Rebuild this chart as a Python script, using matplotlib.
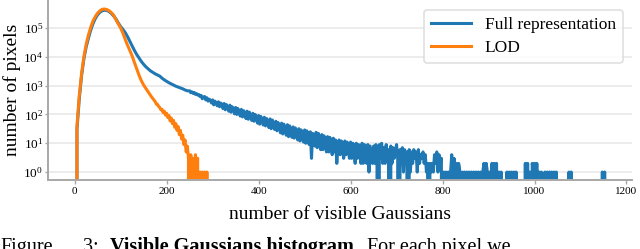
import numpy as np
import matplotlib
matplotlib.use("Agg")
import matplotlib.pyplot as plt
from matplotlib.ticker import NullLocator, FixedLocator

plt.rcParams['font.family'] = ['Liberation Serif', 'DejaVu Serif']
plt.rcParams['mathtext.fontset'] = 'custom'
plt.rcParams['mathtext.rm'] = 'Liberation Serif'
plt.rcParams['mathtext.it'] = 'Liberation Serif:italic'

# histogram counts
# head: one value per 5 gaussians (0-245)
full_counts = [
    0, 30, 350, 2200, 8500, 22000, 45000, 85000, 145000, 215000,             # 0-45
    290000, 355000, 398000, 417000, 407000, 372000, 316000, 260000, 204000, 148000,  # 50-95
    112000, 89000, 69000, 50000, 34700, 24000, 16600, 12000, 9100, 6900,     # 100-145
    5500, 4470, 3800, 3240, 2880, 2570, 2340, 2140, 1820, 1580,              # 150-195
    1410, 1260, 1150, 1050, 955, 890, 830, 776, 708, 660,                    # 200-245
]
# noisy part: one value per 2.5 gaussians (250-697.5)
full_mid_counts = [
    660, 570, 610, 540, 580, 500, 530, 470, 490, 420,    # 250
    460, 350, 400, 420, 320, 380, 290, 340, 310, 250,    # 275
    320, 215, 290, 250, 200, 275, 185, 250, 230, 160,    # 300
    240, 145, 220, 175, 130, 210, 120, 185, 160, 105,    # 325
    175, 100, 160, 125, 88, 150, 82, 135, 110, 72,       # 350
    130, 68, 120, 85, 62, 110, 58, 100, 80, 50,          # 375
    92, 46, 85, 60, 43, 80, 40, 72, 55, 35,              # 400
    70, 32, 64, 45, 30, 58, 27, 52, 38, 23,              # 425
    50, 21, 46, 30, 19, 44, 17, 40, 26, 16,              # 450
    37, 15, 34, 22, 13, 32, 12, 29, 19, 11,              # 475
    29, 10, 27, 16, 9, 25, 3, 22, 14, 8,                 # 500
    24, 7, 22, 12, 6, 20, 6, 18, 11, 5,                  # 525
    17, 5, 16, 9, 4, 15, 5, 13, 2, 7,                    # 550
    13, 4, 12, 7, 3, 12, 4, 11, 6, 3,                    # 575
    11, 3, 10, 5, 2, 10, 3, 9, 5, 2,                     # 600
    10, 2, 9, 4, 2, 9, 1, 8, 4, 2,                       # 625
    8, 2, 9, 3, 0, 9, 3, 10, 2, 7,                       # 650
    2, 9, 3, 6, 0, 8, 2, 7, 3, 5,                        # 675
]
# sparse tail: one value per 2.5 gaussians (700-1160)
full_tail_counts = [
    9, 3, 0, 6,                                                  # 700-707.5
    2, 7, 1, 6, 2, 5, 0, 6, 1, 5,                                # 710-732.5
    2, 6, 3, 5, 1, 6, 2, 4, 3, 5, 2, 4,                          # 735-762.5
    1, 2, 0, 2, 1, 2, 1,                                         # 765-780
    4, 2, 5, 1, 4, 2, 3,                                         # 782.5-797.5
    0, 1, 0, 1, 0, 1, 0,                                         # 800-815
    1, 4, 0, 3, 1,                                               # 817.5-827.5
    2, 0, 2, 1,                                                  # 830-837.5
    0, 1, 0, 1, 0, 1, 0, 1, 0, 1, 0, 1, 0, 1, 0, 1, 0, 1, 0, 1,  # 840-887.5
    2, 0, 2, 1,                                                  # 890-897.5
    0, 1, 0,                                                     # 900-905
    2, 0, 2, 1, 2,                                               # 907.5-917.5
    0, 1, 0, 1,                                                  # 920-927.5
    0, 0, 0, 0,                                                  # 930-937.5
    1, 0, 1, 0, 1, 0, 1, 0, 1,                                   # 940-960
    0, 0, 0, 0, 0, 0, 0,                                         # 962.5-977.5
    2, 0, 2, 0, 1,                                               # 980-990
    0, 2, 1, 2, 0, 2, 0,                                         # 992.5-1007.5
    1, 0, 1, 0,                                                  # 1010-1017.5
    0,                                                           # 1020
    1, 0, 1, 0, 1, 0, 1, 0, 1, 0, 1,                             # 1022.5-1047.5
    0, 0, 0, 0, 0, 0, 0, 0, 0, 0,                                # 1050-1072.5
    1, 0, 1, 0,                                                  # 1075-1082.5
    0, 0, 0, 0, 0, 0, 0, 0, 0, 0, 0, 0, 0, 0, 0, 0, 0, 0, 0, 0, 0, 0, 0, 0, 0,  # 1085-1145
    1, 0, 1, 0,                                                  # 1147.5-1155
    0, 0,                                                        # 1157.5-1160
]
# LOD: per 5 gaussians 0-170, then per 2.5 gaussians 175-290
lod_counts = [
    0, 40, 450, 2600, 10000, 27000, 58000, 108000, 178000, 251000,           # 0-45
    331000, 398000, 447000, 457000, 437000, 398000, 339000, 275000, 190000, 138000,  # 50-95
    100000, 66000, 40000, 25100, 16600, 10700, 6300, 3800, 2290, 1480,       # 100-145
    1050, 794, 603, 457, 355,                                                # 150-170
]
lod_tail_counts = [
    280, 230, 225, 190, 175, 145, 150, 115, 130, 95,     # 175
    110, 78, 92, 60, 75, 48, 62, 36, 48, 28,             # 200
    38, 20, 28, 14, 19, 9, 13, 5, 8, 3,                  # 225
    0, 4, 1, 3, 0, 4, 2, 3, 0, 1,                        # 250
    0, 1, 0, 1, 0, 1, 0,                                 # 275-290
]

labels = ["Full representation", "LOD"]
colors = ["#1f77b4", "#ff7f0e"]

full_x = np.concatenate([np.arange(len(full_counts)) * 5.0,
                         250 + np.arange(len(full_mid_counts)) * 2.5,
                         700 + np.arange(len(full_tail_counts)) * 2.5])
full_y = np.array(full_counts + full_mid_counts + full_tail_counts, dtype=float)
lod_x = np.concatenate([np.arange(len(lod_counts)) * 5.0,
                        175 + np.arange(len(lod_tail_counts)) * 2.5])
lod_y = np.array(lod_counts + lod_tail_counts, dtype=float)

fig = plt.figure(figsize=(6.4, 2.49), dpi=100)
ax = fig.add_axes([48 / 640, 1 - 180 / 249, 584 / 640, 180 / 249])

ax.set_yscale('log', nonpositive='clip')
ax.plot(full_x, full_y, color=colors[0], lw=2.2, label=labels[0])
ax.plot(lod_x, lod_y, color=colors[1], lw=2.2, label=labels[1])

ax.set_xlim(-58, 1212)
ax.set_ylim(0.53, 9.4e5)
ax.yaxis.set_major_locator(FixedLocator([1, 10, 100, 1e3, 1e4, 1e5]))
ax.yaxis.set_minor_locator(NullLocator())
ax.set_xticks([0, 200, 400, 600, 800, 1000, 1200])

ax.set_axisbelow(True)
ax.yaxis.grid(True, color='#ebebeb', lw=1.3)
for s in ['top', 'right']:
    ax.spines[s].set_visible(False)
for s in ['left', 'bottom']:
    ax.spines[s].set_color('#a8a8a8')
    ax.spines[s].set_linewidth(1.4)
ax.tick_params(axis='x', length=3, width=1, color='#a8a8a8', labelsize=8, pad=2)
ax.tick_params(axis='y', length=2.5, width=1, color='#a8a8a8', labelsize=9.5, pad=1)

ax.set_xlabel("number of visible Gaussians", fontsize=14)
ax.xaxis.set_label_coords(0.5, -0.145)
ax.set_ylabel("number of pixels", fontsize=14)
ax.yaxis.set_label_coords(-0.047, 0.5)

leg = ax.legend(loc='upper right', fontsize=12.5, handlelength=2.3,
                labelspacing=0.4, frameon=True, fancybox=True,
                edgecolor='#d8d8d8', bbox_to_anchor=(0.999, 0.993))
leg.get_frame().set_linewidth(1.2)

# caption, cut off by the figure border as in the page crop
fig.text(0.0, -0.012, "Figure", fontsize=14.5, va='baseline')
fig.text(83 / 640, -0.012, "3:", fontsize=14.5, va='baseline')
fig.text(110 / 640, -0.012, "Visible Gaussians histogram.", fontsize=14.5,
         fontweight='bold', va='baseline')
fig.text(367 / 640, -0.012, "For each pixel we", fontsize=14.5, va='baseline')

fig.savefig("out.png", dpi=100)
